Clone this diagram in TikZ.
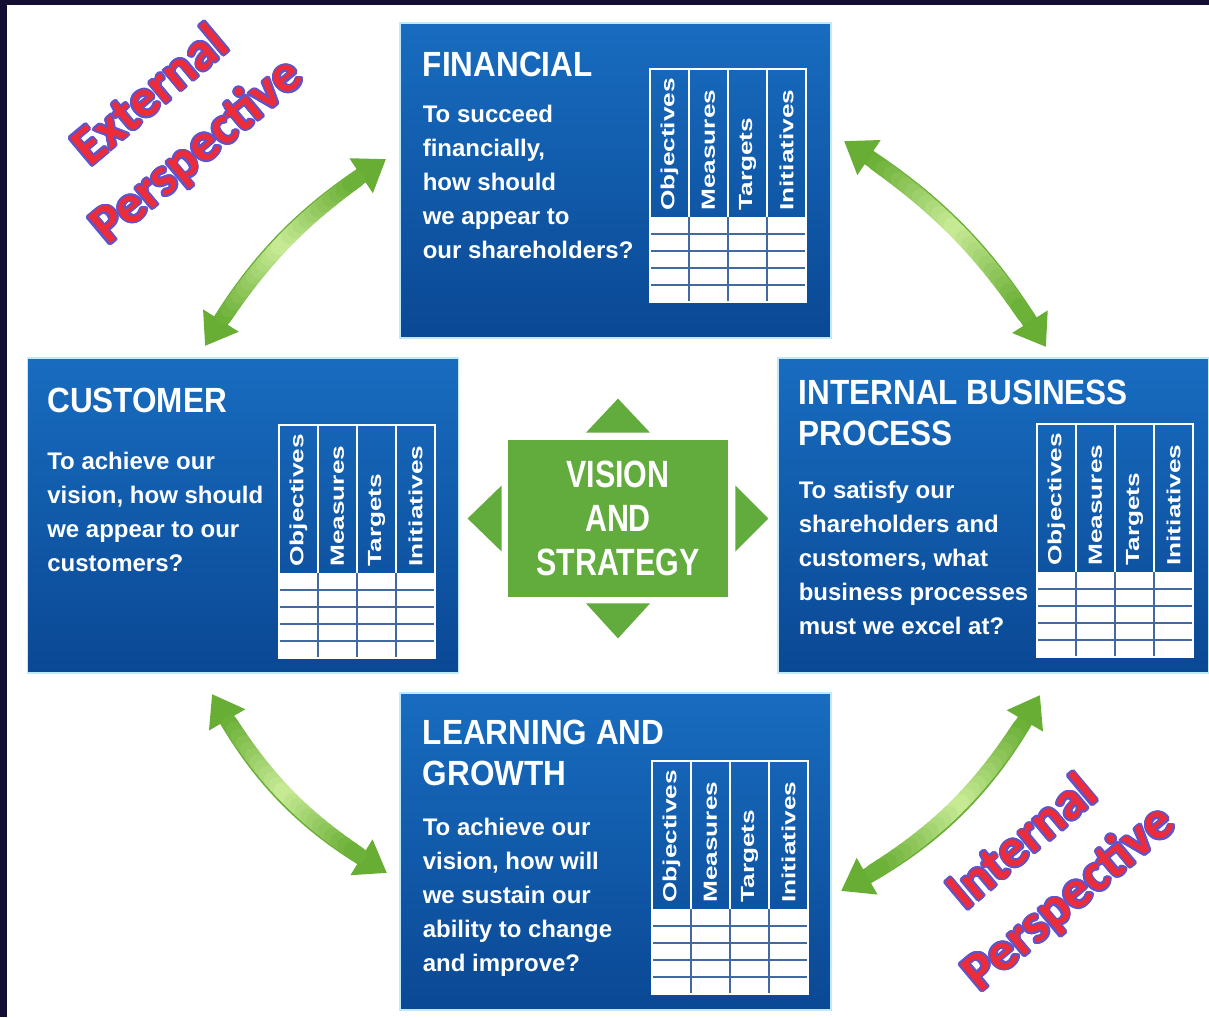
\documentclass[tikz,border=0pt]{standalone}
\usepackage{fontspec}
\setmainfont{Liberation Sans}
\newfontfamily\ttlfont[FakeStretch=0.9]{Liberation Sans}
\newfontfamily\visfont[FakeStretch=0.8]{Liberation Sans}
\newfontfamily\colfont[FakeStretch=1.38]{Liberation Sans}
\newfontfamily\perfont{Carlito}
\usepackage[copies]{contour}
\contourlength{0.9pt}
\contournumber{16}
\usetikzlibrary{arrows.meta}

\definecolor{bscblue}{RGB}{24,108,192}
\definecolor{bscbluedark}{RGB}{10,72,148}
\definecolor{visgreen}{RGB}{98,172,62}
\definecolor{arrdark}{RGB}{104,174,52}
\definecolor{arrlight}{RGB}{202,236,152}
\definecolor{gridline}{RGB}{66,106,160}
\definecolor{pertext}{RGB}{236,44,56}
\definecolor{perline}{RGB}{96,84,205}
\definecolor{framenavy}{RGB}{20,14,50}

\tikzset{
  bscbox/.style={minimum width=215.5pt, minimum height=157.5pt, inner sep=0,
    draw=cyan!25!white, line width=0.6pt, top color=bscblue, bottom color=bscbluedark},
  ttl/.style={anchor=north west, inner sep=0, text=white, align=left,
    font=\ttlfont\bfseries\fontsize{17.5}{20.5}\selectfont},
  qtext/.style={anchor=north west, inner sep=0, text=white, align=left,
    font=\bfseries\fontsize{12}{17}\selectfont},
  colhead/.style={rotate=90, anchor=west, inner sep=0, text=white,
    font=\colfont\bfseries\fontsize{9.5}{10}\selectfont},
  visbox/.style={fill=visgreen, minimum width=110pt, minimum height=78.5pt, inner sep=0,
    text=white, align=center, font=\visfont\bfseries\fontsize{19}{22}\selectfont},
  persp/.style={rotate=40, align=center, text=pertext,
    font=\perfont\bfseries\fontsize{27}{36}\selectfont},
  bscarrow/.style={draw=arrdark, line width=8pt,
    {Triangle[width=20pt,length=15pt]}-{Triangle[width=20pt,length=15pt]}},
  bsctable/.pic={
    \fill[white] (0,148) rectangle (156,233);
    \foreach \r in {165,182,199,216}
      \draw[gridline, line width=1pt] (0,\r) -- (156,\r);
    \foreach \c in {39,78,117}{
      \draw[white, line width=1pt] (\c,0) -- (\c,148);
      \draw[gridline, line width=1pt] (\c,148) -- (\c,233);
    }
    \draw[white, line width=1.2pt] (0,0) rectangle (156,233);
    \node[colhead] (-obj) at (19.5,142) {Objectives};
    \node[colhead] (-mea) at (58.5,142) {Measures};
    \node[colhead] (-tar) at (97.5,142) {Targets};
    \node[colhead] (-ini) at (136.5,142) {Initiatives};
  }
}

\begin{document}
\begin{tikzpicture}[x=0.5pt,y=-0.5pt]
\useasboundingbox (0,0) rectangle (1209,1017);
%frame
  \fill[framenavy] (0,0) rectangle (1209,1017);
  \fill[white] (7,5) rectangle (1209,1017);

%boxes
  \node[bscbox] (fin) at (615.5,180.5) {};
  \node[bscbox] (cus) at (243,515.5) {};
  \node[bscbox] (ibp) at (993.5,515.5) {};
  \node[bscbox, minimum height=158.5pt] (lng) at (615.5,851.5) {};

  \node[ttl] (fin-t) at ([shift={(23,29)}]fin.north west) {FINANCIAL};
  \node[qtext] (fin-q) at ([shift={(23,82)}]fin.north west)
    {To succeed\\financially,\\how should\\we appear to\\our shareholders?};
  \node[ttl] (cus-t) at ([shift={(20,30)}]cus.north west) {CUSTOMER};
  \node[qtext] (cus-q) at ([shift={(20,94)}]cus.north west)
    {To achieve our\\vision, how should\\we appear to our\\customers?};
  \node[ttl] (ibp-t) at ([shift={(21,22)}]ibp.north west) {INTERNAL BUSINESS\\PROCESS};
  \node[qtext] (ibp-q) at ([shift={(21,123)}]ibp.north west)
    {To satisfy our\\shareholders and\\customers, what\\business processes\\must we excel at?};
  \node[ttl] (lng-t) at ([shift={(23,27)}]lng.north west) {LEARNING AND\\GROWTH};
  \node[qtext] (lng-q) at ([shift={(23,125)}]lng.north west)
    {To achieve our\\vision, how will\\we sustain our\\ability to change\\and improve?};

%tables
  \pic (fintab) at (650,69) {bsctable};
  \pic (custab) at (279,425) {bsctable};
  \pic (ibptab) at (1037,424) {bsctable};
  \pic (lngtab) at (652,761) {bsctable};

%vision and strategy
  \node[visbox] (vis) at (618,518.5) {VISION\\AND\\STRATEGY};
  \fill[visgreen] ([shift={(-32,-7)}]vis.north) -- ([shift={(0,-41)}]vis.north) -- ([shift={(32,-7)}]vis.north) -- cycle;
  \fill[visgreen] ([shift={(-32,6)}]vis.south) -- ([shift={(0,41)}]vis.south) -- ([shift={(32,6)}]vis.south) -- cycle;
  \fill[visgreen] ([shift={(-6,-33)}]vis.west) -- ([shift={(-40,0)}]vis.west) -- ([shift={(-6,33)}]vis.west) -- cycle;
  \fill[visgreen] ([shift={(7,-33)}]vis.east) -- ([shift={(40,0)}]vis.east) -- ([shift={(7,33)}]vis.east) -- cycle;

%arrows
  \coordinate (cus-a) at (205,346);
  \coordinate (fin-a) at (386,159);
  \coordinate (fin-b) at (844,141);
  \coordinate (ibp-a) at (1046,347);
  \coordinate (cus-b) at (212,694);
  \coordinate (lng-a) at (387,873);
  \coordinate (ibp-b) at (1040,695);
  \coordinate (lng-b) at (841,891);
  \foreach \a/\b/\bnd in {cus-a/fin-a/12, fin-b/ibp-a/12, cus-b/lng-a/-14, ibp-b/lng-b/15}{
    \draw[bscarrow] (\a) to[bend left=\bnd] (\b);
    \foreach \i in {0,...,24}{
      \pgfmathsetmacro{\t}{0.12+0.76*\i/24}
      \path (\a) to[bend left=\bnd] coordinate[pos=\t] (p\i) (\b);
    }
    \foreach \i [count=\j from 0] in {1,...,24}{
      \pgfmathsetmacro{\mix}{abs(\i-12.5)/12*100}
      \draw[line width=8pt, line cap=round, draw=arrdark!\mix!arrlight] (p\j) -- (p\i);
    }
  }

%perspectives
  \node[persp] (ext) at (175,125) {\contour{perline}{External}\\\contour{perline}{Perspective}};
  \node[persp] (int) at (1047,872) {\contour{perline}{Internal}\\\contour{perline}{Perspective}};
\end{tikzpicture}
\end{document}
